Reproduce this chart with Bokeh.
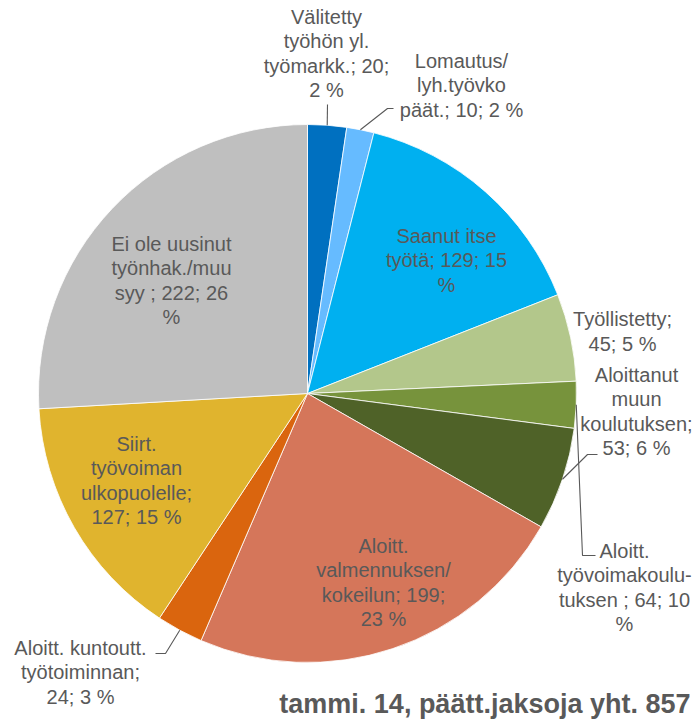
import numpy as np
from bokeh.plotting import figure
from bokeh.models import Range1d, ColumnDataSource
from bokeh.core.properties import value
from bokeh.embed import file_html
from bokeh.resources import INLINE

# ---------------- data ----------------
categories = [
    "Välitetty työhön yl. työmarkk.",
    "Lomautus/lyh.työvko päät.",
    "Saanut itse työtä",
    "Työllistetty",
    "Aloitt. työvoimakoulutuksen",
    "Aloittanut muun koulutuksen",
    "Aloitt. valmennuksen/kokeilun",
    "Aloitt. kuntoutt. työtoiminnan",
    "Siirt. työvoiman ulkopuolelle",
    "Ei ole uusinut työnhak./muu syy",
]
slice_values = [20, 14, 129, 45, 24, 53, 199, 24, 127, 222]
label_texts = [
    "Välitetty\ntyöhön yl.\ntyömarkk.; 20;\n2 %",
    "Lomautus/\nlyh.työvko\npäät.; 10; 2 %",
    "Saanut itse\ntyötä; 129; 15\n%",
    "Työllistetty;\n45; 5 %",
    "Aloitt.\ntyövoimakoulu-\ntuksen ; 64; 10\n%",
    "Aloittanut\nmuun\nkoulutuksen;\n53; 6 %",
    "Aloitt.\nvalmennuksen/\nkokeilun; 199;\n23 %",
    "Aloitt. kuntoutt.\ntyötoiminnan;\n24; 3 %",
    "Siirt.\ntyövoiman\nulkopuolelle;\n127; 15 %",
    "Ei ole uusinut\ntyönhak./muu\nsyy ; 222; 26\n%",
]
slice_colors = ["#0070C0", "#66BBFF", "#00B0F0", "#B3C78B", "#77933C",
                "#4F6228", "#D5765A", "#DA650E", "#E0B42E", "#BFBFBF"]
title_text = "tammi. 14, päätt.jaksoja yht. 857"

# ---------------- layout (picture pixel coords, y measured downward) ----------------
W, H = 692, 720
CX, CY, R = 307, 393, 269
label_pos = [(326, 53), (461, 85), (446, 260), (622, 331), (624, 587),
             (636, 411), (383, 582), (80, 672), (136, 480), (171, 280)]
leaders = {
    0: [(327, 104)],
    1: [(387, 108), (393, 108)],
    5: [(587, 454), (597, 454)],
    4: [(582, 555), (595, 555)],
    7: [(165, 653), (155, 653)],
}

def Y(y):
    return H - y

p = figure(width=W, height=H, x_range=Range1d(0, W), y_range=Range1d(0, H),
           output_backend="svg", toolbar_location=None, min_border=0,
           background_fill_color="white", border_fill_color="white")
p.axis.visible = False
p.grid.visible = False
p.outline_line_color = None

vals = np.array(slice_values, dtype=float)
frac = vals / vals.sum()
cum = np.concatenate([[0.0], np.cumsum(frac)])
start = np.pi / 2 - 2 * np.pi * cum[:-1]
end = np.pi / 2 - 2 * np.pi * cum[1:]

src = ColumnDataSource(dict(x=[CX] * len(vals), y=[Y(CY)] * len(vals),
                            start=start, end=end, color=slice_colors,
                            cat=categories))
p.wedge(x="x", y="y", radius=R, start_angle="start", end_angle="end",
        direction="clock", fill_color="color", line_color="white",
        line_width=0.8, source=src)

# leader lines
for i, pts in leaders.items():
    mid = (start[i] + end[i]) / 2
    ex = CX + R * np.cos(mid)
    ey = Y(CY) + R * np.sin(mid)
    xs = [ex] + [q[0] for q in pts]
    ys = [ey] + [Y(q[1]) for q in pts]
    p.line(xs, ys, line_color="#595959", line_width=1.1)

# labels
lsrc = ColumnDataSource(dict(x=[q[0] for q in label_pos],
                             y=[Y(q[1]) for q in label_pos],
                             t=label_texts))
p.text(x="x", y="y", text="t", source=lsrc, text_align="center",
       text_baseline="middle", text_font=value("Liberation Sans"),
       text_font_size="20px", text_color="#595959", text_line_height=1.1)

p.text(x=[690], y=[Y(703)], text=[title_text], text_align="right",
       text_baseline="middle", text_font=value("Liberation Sans"),
       text_font_size="27px", text_font_style="bold", text_color="#595959")

open("out.html", "w").write(file_html(p, INLINE))
